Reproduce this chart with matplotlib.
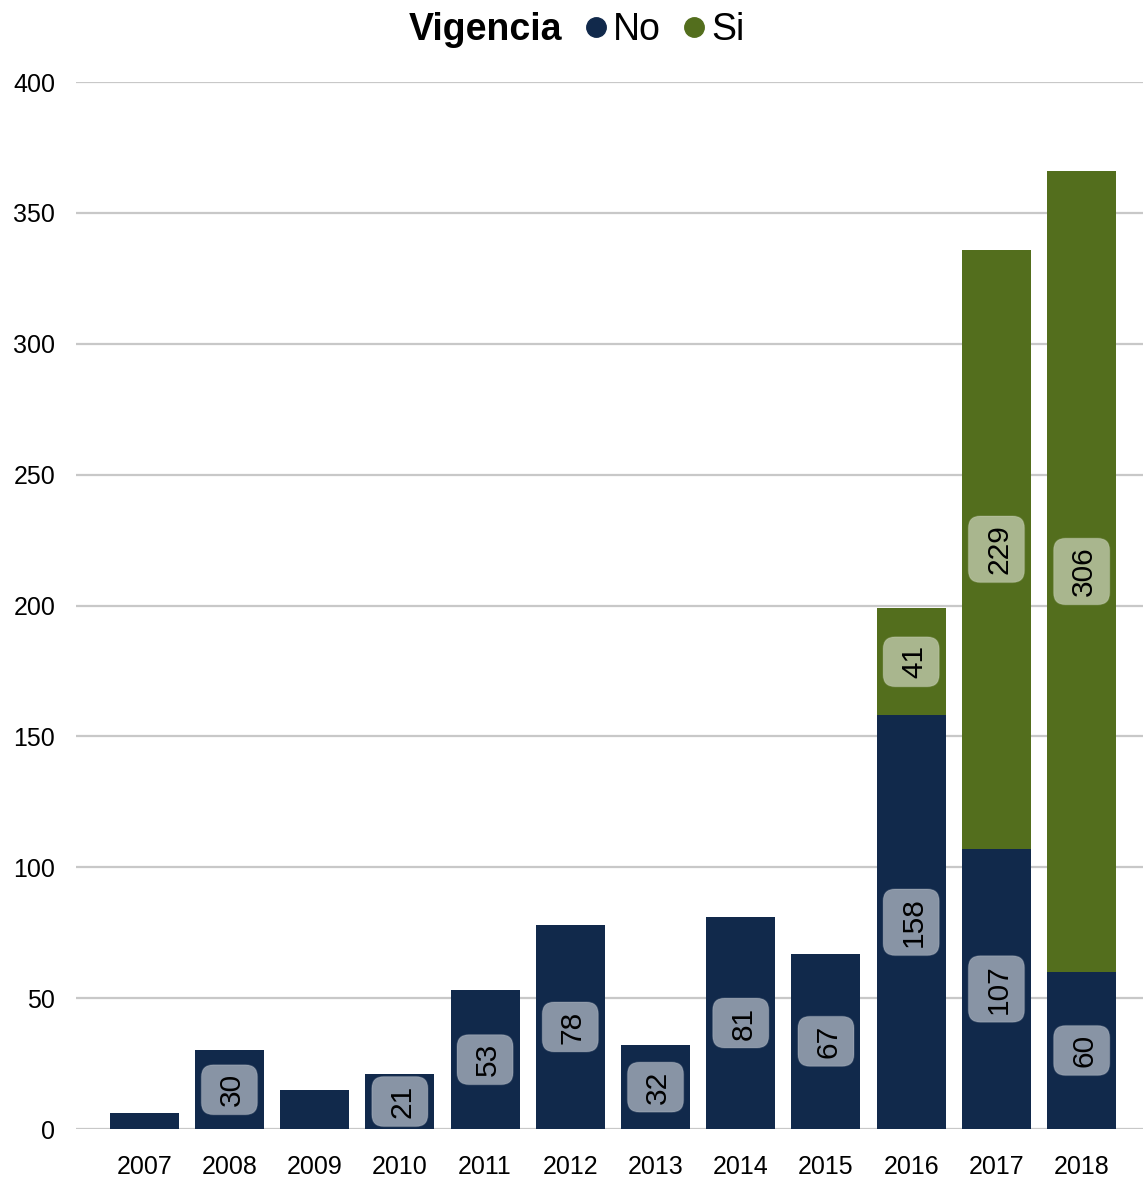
import matplotlib.pyplot as plt
import numpy as np
from matplotlib.lines import Line2D
from matplotlib.patches import BoxStyle

plt.rcParams['font.family'] = ['Liberation Sans', 'DejaVu Sans']

years = ['2007', '2008', '2009', '2010', '2011', '2012', '2013', '2014', '2015', '2016', '2017', '2018']
no_vals = [6, 30, 15, 21, 53, 78, 32, 81, 67, 158, 107, 60]
si_vals = [0, 0, 0, 0, 0, 0, 0, 0, 0, 41, 229, 306]

navy = '#11294b'
green = '#536e1d'
label_fs = 21.5


class PadBox:
    # rounded box, padding along the text (px) and across it (py),
    # py shifted a bit so the box sits on the digits, not the descender
    def __init__(self, px, py, shift, r):
        self.px, self.py, self.shift, self.r = px, py, shift, r

    def __call__(self, x0, y0, width, height, mutation_size):
        px = self.px * mutation_size
        pb = (self.py - self.shift) * mutation_size
        pt = (self.py + self.shift) * mutation_size
        return BoxStyle.Round(pad=0, rounding_size=self.r)(
            x0 - px, y0 - pb, width + 2 * px, height + pb + pt, mutation_size)


fig = plt.figure(figsize=(11.43, 11.8), dpi=100)
ax = fig.add_axes([0.0665, 0.0432, 0.9335, 0.8873])

x = np.arange(len(years))
no = np.array(no_vals)
si = np.array(si_vals)
ax.bar(x, no, width=0.81, color=navy, zorder=2)
ax.bar(x, si, width=0.81, bottom=no, color=green, zorder=2)

# data labels, only where the segment is tall enough for the box
def put_labels(vals, bottoms):
    for xi, v, b in zip(x, vals, bottoms):
        if v < 20:
            continue
        ax.annotate(str(v), (xi, b + v / 2), xytext=(0.09 * label_fs, 0),
                    textcoords='offset points', rotation=90,
                    ha='center', va='center', fontsize=label_fs,
                    color='black', zorder=3,
                    bbox=dict(boxstyle=PadBox(0.28, 0.47, 0.09, 0.4),
                              fc=(1, 1, 1, 0.5), ec=(1, 1, 1, 0.15), lw=1))

put_labels(no, np.zeros(len(no)))
put_labels(si, no)

ax.set_ylim(0, 400)
ax.set_xlim(-0.8, 11.72)
ax.set_yticks(range(0, 401, 50))
ax.set_xticks(x)
ax.set_xticklabels(years)
ax.tick_params(axis='both', length=0, labelsize=18)
ax.tick_params(axis='y', pad=15)
ax.tick_params(axis='x', pad=19)
ax.grid(axis='y', color='#c8c8c8', lw=1.6, zorder=0)
for s in ax.spines.values():
    s.set_visible(False)

handles = [Line2D([], [], ls='none', marker=None),
           Line2D([], [], ls='none', marker='o', ms=14, color=navy),
           Line2D([], [], ls='none', marker='o', ms=14, color=green)]
leg = fig.legend(handles, ['Vigencia', 'No', 'Si'], ncol=3, loc='center',
                 bbox_to_anchor=(0.492, 0.9745), frameon=False, fontsize=27,
                 handlelength=0.6, handletextpad=0.15, columnspacing=0.6)
leg.get_texts()[0].set_fontweight('bold')

fig.savefig('out.png', dpi=100)
